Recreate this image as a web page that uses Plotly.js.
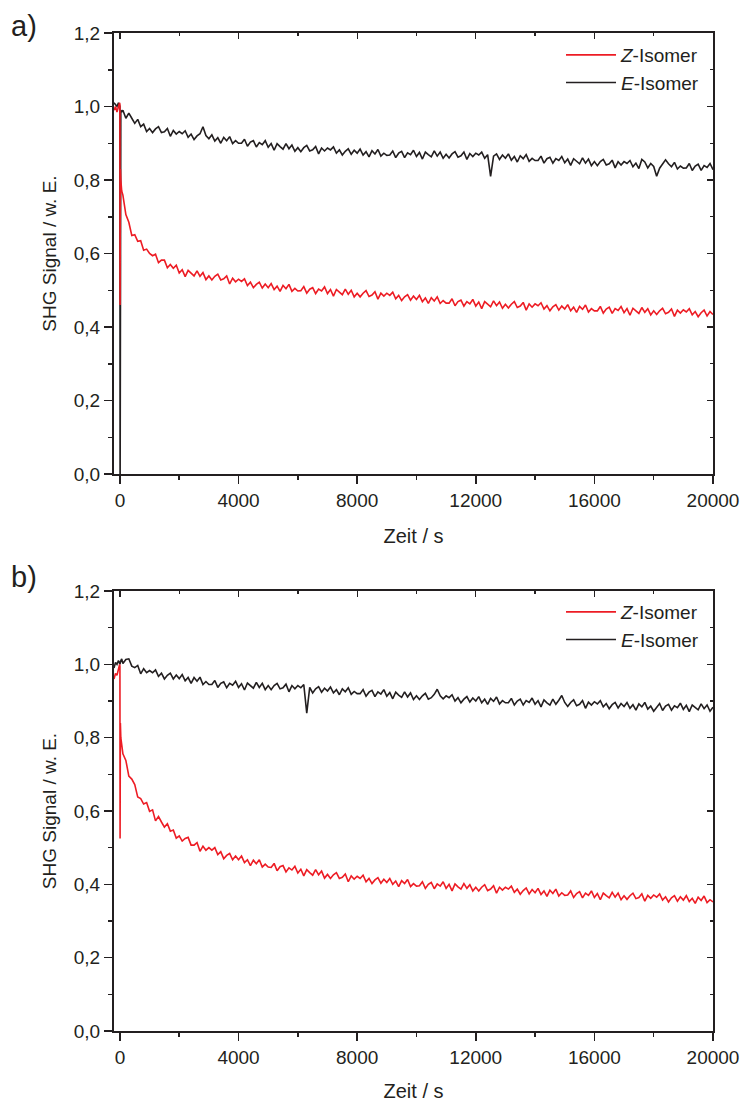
<!DOCTYPE html>
<html>
<head>
<meta charset="utf-8">
<script src="https://cdn.plot.ly/plotly-3.0.1.min.js"></script>
<style>html,body{margin:0;padding:0;background:#fff;}#chart{width:744px;height:1102px;}</style>
</head>
<body>
<div id="chart"></div>
<script>
// ---- time axes (s) ----
const tEarlyZa = [-200,-150,-100,-50,-10,0,5,15,30,60];
const tEarlyEa = [-200,-150,-100,-50,-20,0,5,15,30,60];
const tEarlyZb = [-200,-150,-100,-60,-30,-10,0,5,15,30,60];
const tEarlyEb = [-200,-150,-100,-50,-20,0,30,60];
const tMain = [
100,200,300,400,500,600,700,800,900,1000,
1100,1200,1300,1400,1500,1600,1700,1800,1900,2000,
2100,2200,2300,2400,2500,2600,2700,2800,2900,3000,
3100,3200,3300,3400,3500,3600,3700,3800,3900,4000,
4100,4200,4300,4400,4500,4600,4700,4800,4900,5000,
5100,5200,5300,5400,5500,5600,5700,5800,5900,6000,
6100,6200,6300,6400,6500,6600,6700,6800,6900,7000,
7100,7200,7300,7400,7500,7600,7700,7800,7900,8000,
8100,8200,8300,8400,8500,8600,8700,8800,8900,9000,
9100,9200,9300,9400,9500,9600,9700,9800,9900,10000,
10100,10200,10300,10400,10500,10600,10700,10800,10900,11000,
11100,11200,11300,11400,11500,11600,11700,11800,11900,12000,
12100,12200,12300,12400,12500,12600,12700,12800,12900,13000,
13100,13200,13300,13400,13500,13600,13700,13800,13900,14000,
14100,14200,14300,14400,14500,14600,14700,14800,14900,15000,
15100,15200,15300,15400,15500,15600,15700,15800,15900,16000,
16100,16200,16300,16400,16500,16600,16700,16800,16900,17000,
17100,17200,17300,17400,17500,17600,17700,17800,17900,18000,
18100,18200,18300,18400,18500,18600,18700,18800,18900,19000,
19100,19200,19300,19400,19500,19600,19700,19800,19900,20000];

// ---- panel a) ----
const zEarlyA = [0.99,1.0,0.985,1.0,1.01,1.005,0.46,0.83,0.80,0.77];
const eEarlyA = [1.01,1.005,1.0,1.01,1.0,1.0,-0.1,0.99,0.99,0.985];
const zMainA = [
0.759,0.706,0.685,0.649,0.651,0.633,0.635,0.609,0.612,0.600,
0.594,0.598,0.575,0.582,0.582,0.561,0.570,0.560,0.568,0.547,
0.556,0.537,0.554,0.546,0.539,0.553,0.538,0.548,0.529,0.539,
0.528,0.538,0.544,0.528,0.531,0.539,0.517,0.533,0.523,0.530,
0.524,0.531,0.513,0.522,0.507,0.516,0.522,0.506,0.517,0.507,
0.518,0.502,0.511,0.497,0.513,0.504,0.516,0.497,0.505,0.498,
0.499,0.510,0.492,0.503,0.507,0.491,0.503,0.498,0.509,0.491,
0.502,0.484,0.502,0.495,0.488,0.503,0.489,0.500,0.482,0.492,
0.482,0.492,0.499,0.483,0.487,0.496,0.476,0.492,0.484,0.492,
0.486,0.495,0.477,0.486,0.472,0.482,0.488,0.473,0.484,0.475,
0.486,0.469,0.479,0.464,0.480,0.471,0.482,0.464,0.472,0.465,
0.465,0.477,0.458,0.469,0.473,0.457,0.469,0.463,0.475,0.457,
0.468,0.450,0.469,0.462,0.455,0.471,0.458,0.468,0.451,0.462,
0.452,0.462,0.469,0.453,0.457,0.467,0.446,0.463,0.454,0.463,
0.458,0.466,0.449,0.458,0.444,0.455,0.461,0.446,0.457,0.449,
0.461,0.444,0.454,0.440,0.456,0.448,0.460,0.441,0.450,0.444,
0.444,0.456,0.438,0.449,0.454,0.437,0.450,0.445,0.456,0.439,
0.450,0.432,0.451,0.444,0.437,0.453,0.440,0.450,0.433,0.444,
0.434,0.444,0.451,0.436,0.440,0.449,0.429,0.446,0.438,0.447,
0.441,0.450,0.433,0.442,0.428,0.439,0.446,0.430,0.442,0.434];
const eMainA = [
0.990,0.968,0.982,0.968,0.954,0.965,0.945,0.952,0.932,0.940,
0.929,0.939,0.945,0.929,0.931,0.940,0.919,0.935,0.925,0.932,
0.926,0.934,0.916,0.925,0.910,0.920,0.926,0.945,0.921,0.912,
0.923,0.906,0.915,0.900,0.916,0.907,0.918,0.899,0.907,0.900,
0.900,0.911,0.892,0.903,0.907,0.890,0.902,0.896,0.907,0.889,
0.899,0.881,0.899,0.891,0.884,0.899,0.885,0.895,0.878,0.888,
0.877,0.888,0.894,0.879,0.882,0.891,0.871,0.887,0.879,0.887,
0.882,0.890,0.873,0.882,0.868,0.878,0.885,0.870,0.881,0.873,
0.884,0.868,0.877,0.863,0.880,0.871,0.883,0.865,0.873,0.867,
0.868,0.879,0.861,0.873,0.878,0.861,0.874,0.869,0.881,0.864,
0.875,0.857,0.876,0.869,0.863,0.879,0.865,0.876,0.859,0.870,
0.860,0.871,0.877,0.862,0.866,0.876,0.856,0.872,0.864,0.873,
0.868,0.876,0.859,0.869,0.810,0.865,0.871,0.856,0.868,0.859,
0.871,0.854,0.864,0.849,0.866,0.858,0.869,0.851,0.859,0.853,
0.853,0.865,0.846,0.858,0.862,0.846,0.858,0.853,0.864,0.847,
0.857,0.840,0.858,0.851,0.844,0.860,0.846,0.857,0.839,0.850,
0.839,0.850,0.856,0.841,0.844,0.854,0.833,0.850,0.841,0.850,
0.845,0.853,0.836,0.846,0.831,0.856,0.849,0.833,0.845,0.837,
0.810,0.832,0.842,0.855,0.844,0.836,0.848,0.830,0.838,0.832,
0.833,0.845,0.826,0.838,0.843,0.826,0.839,0.834,0.845,0.828];

// ---- panel b) ----
const zEarlyB = [0.96,0.975,0.97,0.985,0.99,1.0,0.995,0.525,0.84,0.80,0.78];
const eEarlyB = [0.99,1.005,1.0,1.01,1.005,1.0,1.01,1.015];
const zMainB = [
0.756,0.738,0.695,0.687,0.672,0.638,0.634,0.619,0.623,0.599,
0.603,0.573,0.585,0.570,0.556,0.565,0.545,0.548,0.526,0.532,
0.518,0.525,0.528,0.507,0.507,0.514,0.490,0.504,0.493,0.500,
0.493,0.500,0.481,0.489,0.470,0.479,0.484,0.467,0.477,0.467,
0.477,0.459,0.467,0.451,0.466,0.456,0.467,0.447,0.455,0.447,
0.446,0.457,0.437,0.448,0.451,0.434,0.445,0.439,0.449,0.431,
0.441,0.423,0.440,0.432,0.425,0.440,0.426,0.436,0.417,0.427,
0.416,0.426,0.432,0.416,0.419,0.428,0.407,0.423,0.414,0.422,
0.416,0.425,0.407,0.416,0.402,0.412,0.418,0.403,0.414,0.405,
0.416,0.400,0.409,0.394,0.410,0.402,0.413,0.394,0.402,0.395,
0.396,0.407,0.389,0.400,0.405,0.388,0.401,0.395,0.407,0.389,
0.400,0.382,0.401,0.393,0.387,0.402,0.389,0.399,0.382,0.392,
0.382,0.392,0.399,0.383,0.387,0.396,0.376,0.392,0.384,0.392,
0.387,0.395,0.378,0.387,0.373,0.383,0.390,0.374,0.386,0.377,
0.389,0.372,0.382,0.367,0.384,0.375,0.387,0.368,0.377,0.370,
0.371,0.382,0.364,0.375,0.380,0.363,0.376,0.370,0.382,0.364,
0.375,0.358,0.376,0.369,0.363,0.378,0.365,0.376,0.358,0.369,
0.359,0.369,0.376,0.361,0.364,0.374,0.354,0.370,0.362,0.371,
0.365,0.374,0.357,0.366,0.352,0.363,0.369,0.354,0.366,0.357,
0.369,0.353,0.362,0.348,0.365,0.356,0.368,0.350,0.358,0.352];
const eMainB = [
1.002,1.013,1.015,0.995,0.991,0.997,0.974,0.988,0.977,0.983,
0.977,0.985,0.967,0.976,0.960,0.970,0.976,0.960,0.971,0.961,
0.972,0.955,0.964,0.948,0.964,0.954,0.965,0.945,0.953,0.945,
0.945,0.956,0.937,0.948,0.952,0.936,0.948,0.943,0.954,0.937,
0.947,0.930,0.949,0.941,0.935,0.951,0.937,0.948,0.931,0.942,
0.931,0.942,0.948,0.933,0.936,0.946,0.925,0.942,0.933,0.942,
0.936,0.945,0.867,0.937,0.922,0.933,0.939,0.924,0.935,0.927,
0.938,0.922,0.931,0.917,0.933,0.925,0.936,0.918,0.926,0.920,
0.920,0.931,0.913,0.924,0.929,0.912,0.925,0.919,0.931,0.913,
0.923,0.906,0.924,0.916,0.910,0.925,0.911,0.922,0.904,0.914,
0.904,0.914,0.921,0.905,0.909,0.918,0.932,0.914,0.906,0.914,
0.909,0.917,0.900,0.909,0.895,0.905,0.912,0.897,0.908,0.900,
0.912,0.895,0.905,0.891,0.907,0.899,0.911,0.892,0.901,0.895,
0.895,0.907,0.889,0.900,0.905,0.889,0.901,0.896,0.908,0.891,
0.901,0.884,0.903,0.895,0.889,0.905,0.891,0.902,0.915,0.896,
0.885,0.896,0.903,0.887,0.891,0.901,0.880,0.897,0.889,0.898,
0.892,0.901,0.884,0.893,0.879,0.890,0.896,0.881,0.893,0.885,
0.896,0.880,0.890,0.875,0.892,0.884,0.896,0.878,0.886,0.872,
0.881,0.893,0.874,0.886,0.891,0.875,0.887,0.882,0.894,0.877,
0.888,0.871,0.889,0.882,0.876,0.892,0.879,0.889,0.872,0.883];

// ---- labels / ticks ----
const seriesNames = ['<i>Z</i>-Isomer', '<i>E</i>-Isomer'];
const xTickVals = [0,4000,8000,12000,16000,20000];
const xTickText = ['0','4000','8000','12000','16000','20000'];
const yTickVals = [0,0.2,0.4,0.6,0.8,1.0,1.2];
const yTickText = ['0,0','0,2','0,4','0,6','0,8','1,0','1,2'];
const panelLabels = ['a)', 'b)'];
const xTitle = 'Zeit / s';
const yTitle = 'SHG Signal / w. E.';

const RED = '#ed1c24';
const BLK = '#231f20';
const FONT = 'Liberation Sans, Arial, Helvetica, sans-serif';
const LW = 1.6;

const traces = [
  {x: tEarlyEa.concat(tMain), y: eEarlyA.concat(eMainA), xaxis:'x', yaxis:'y', name: seriesNames[1],
   mode:'lines', line:{color:BLK, width:LW}, legend:'legend', legendrank:2},
  {x: tEarlyZa.concat(tMain), y: zEarlyA.concat(zMainA), xaxis:'x', yaxis:'y', name: seriesNames[0],
   mode:'lines', line:{color:RED, width:LW}, legend:'legend', legendrank:1},
  {x: tEarlyEb.concat(tMain), y: eEarlyB.concat(eMainB), xaxis:'x2', yaxis:'y2', name: seriesNames[1],
   mode:'lines', line:{color:BLK, width:LW}, legend:'legend2', legendrank:2},
  {x: tEarlyZb.concat(tMain), y: zEarlyB.concat(zMainB), xaxis:'x2', yaxis:'y2', name: seriesNames[0],
   mode:'lines', line:{color:RED, width:LW}, legend:'legend2', legendrank:1},
  // empty helpers so the inner (top/right) tick axes are drawn
  {x: [], y: [], xaxis:'x3', yaxis:'y3', mode:'lines', showlegend:false, hoverinfo:'skip'},
  {x: [], y: [], xaxis:'x4', yaxis:'y4', mode:'lines', showlegend:false, hoverinfo:'skip'}
];

function xAx(anchor){
  return {
    anchor: anchor, range:[-200,20000], showgrid:false, zeroline:false,
    showline:true, mirror:true, linecolor:BLK, linewidth:2,
    ticks:'outside', ticklen:8, tickwidth:1.5, tickcolor:BLK,
    tickmode:'array', tickvals:xTickVals, ticktext:xTickText,
    minor:{tickmode:'linear', tick0:0, dtick:2000, ticks:'outside', ticklen:4, tickwidth:1.5, tickcolor:BLK},
    tickfont:{family:FONT, size:19, color:BLK},
    title:{text:xTitle, font:{family:FONT, size:20, color:BLK}, standoff:19}
  };
}
function yAx(anchor, domain){
  return {
    anchor: anchor, domain: domain, range:[0,1.2], showgrid:false, zeroline:false,
    showline:true, mirror:true, linecolor:BLK, linewidth:2,
    ticks:'outside', ticklen:8, tickwidth:1.5, tickcolor:BLK,
    tickmode:'array', tickvals:yTickVals, ticktext:yTickText,
    minor:{tickmode:'linear', tick0:0, dtick:0.1, ticks:'outside', ticklen:4, tickwidth:1.5, tickcolor:BLK},
    tickfont:{family:FONT, size:19, color:BLK},
    title:{text:yTitle, font:{family:FONT, size:19, color:BLK}, standoff:12}
  };
}
function xTop(over, anchor){
  return {
    overlaying: over, anchor: anchor, side:'top', range:[-200,20000], showgrid:false, zeroline:false,
    showline:false, showticklabels:false, ticks:'inside', ticklen:6, tickwidth:1.3, tickcolor:BLK,
    tickmode:'array', tickvals:xTickVals,
    minor:{tickmode:'linear', tick0:0, dtick:2000, ticks:'inside', ticklen:3, tickwidth:1.3, tickcolor:BLK}
  };
}
function yRight(over, anchor){
  return {
    overlaying: over, anchor: anchor, side:'right', range:[0,1.2], showgrid:false, zeroline:false,
    showline:false, showticklabels:false, ticks:'inside', ticklen:6, tickwidth:1.3, tickcolor:BLK,
    tickmode:'array', tickvals:yTickVals,
    minor:{tickmode:'linear', tick0:0, dtick:0.1, ticks:'inside', ticklen:3, tickwidth:1.3, tickcolor:BLK}
  };
}

const legendStyle = (y) => ({
  x: 0.985, xanchor:'right', y: y, yanchor:'top', bgcolor:'rgba(0,0,0,0)',
  font:{family:FONT, size:19, color:BLK}, itemwidth:50, tracegroupgap:0
});

const layout = {
  width:744, height:1102,
  margin:{l:114, r:31, t:33, b:71},
  paper_bgcolor:'#fff', plot_bgcolor:'#fff',
  font:{family:FONT, color:BLK},
  xaxis: xAx('y'),
  yaxis: yAx('x', [0.5581, 1]),
  xaxis2: xAx('y2'),
  yaxis2: yAx('x2', [0, 0.4409]),
  xaxis3: xTop('x', 'y'),
  yaxis3: yRight('y', 'x'),
  xaxis4: xTop('x2', 'y2'),
  yaxis4: yRight('y2', 'x2'),
  legend: legendStyle(0.997),
  legend2: legendStyle(0.4389),
  showlegend:true,
  annotations:[
    {text:panelLabels[0], xref:'paper', yref:'paper', x:-0.175, y:1.0075, xanchor:'left', yanchor:'middle',
     showarrow:false, font:{family:FONT, size:29, color:BLK}},
    {text:panelLabels[1], xref:'paper', yref:'paper', x:-0.175, y:0.4554, xanchor:'left', yanchor:'middle',
     showarrow:false, font:{family:FONT, size:29, color:BLK}}
  ]
};

Plotly.newPlot('chart', traces, layout, {displayModeBar:false, staticPlot:true});
</script>
</body>
</html>
